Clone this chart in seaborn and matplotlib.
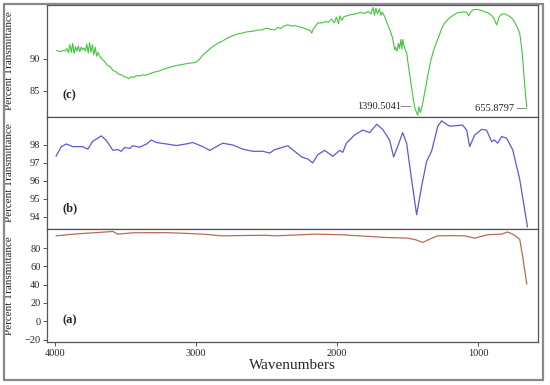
import matplotlib
matplotlib.use("Agg")
import matplotlib.pyplot as plt
import seaborn as sns
import pandas as pd
from matplotlib.patches import Rectangle

# ---------------- data ----------------
wn_c = [3990, 3975, 3960, 3945, 3930, 3915, 3905, 3895, 3885, 3875, 3865, 3855, 3845, 3835,
        3825, 3815, 3805, 3795, 3785, 3775, 3765, 3755, 3745, 3735, 3725, 3715, 3705, 3695,
        3688, 3670, 3650, 3630, 3610, 3590, 3570, 3550, 3530, 3510, 3490, 3478, 3460, 3440,
        3420, 3400, 3380, 3360, 3336, 3300, 3260, 3230, 3195, 3150, 3100, 3053, 3010, 2980,
        2960, 2930, 2900, 2870, 2840, 2818, 2780, 2740, 2700, 2676, 2640, 2600, 2560, 2534,
        2500, 2470, 2443, 2420, 2400, 2380, 2350, 2320, 2300, 2270, 2240, 2210, 2190, 2180,
        2170, 2150, 2137, 2110, 2080, 2060, 2040, 2020, 2005, 1990, 1980, 1967, 1950, 1930,
        1900, 1870, 1840, 1826, 1800, 1780, 1760, 1745, 1735, 1725, 1713, 1700, 1690, 1680,
        1663, 1650, 1635, 1620, 1610, 1600, 1592, 1585, 1575, 1565, 1557, 1548, 1540, 1535,
        1525, 1515, 1507, 1495, 1485, 1472, 1460, 1450, 1440, 1428, 1420, 1410, 1400, 1385,
        1370, 1358, 1340, 1320, 1300, 1287, 1260, 1240, 1216, 1190, 1160, 1145, 1110, 1081,
        1067, 1055, 1040, 1024, 1000, 970, 950, 932, 905, 885, 875, 868, 860, 850, 830, 812,
        790, 762, 740, 720, 705, 690, 680, 670, 662, 655]
t_c = [91.3, 91.2, 91.1, 91.3, 91.2, 91.6, 90.9, 92.2, 91.0, 92.4, 90.8, 91.9, 91.2, 92.0,
       91.1, 91.8, 91.4, 91.7, 91.2, 92.3, 90.9, 92.5, 91.0, 92.2, 90.6, 91.8, 90.4, 91.0,
       90.6, 90.0, 89.6, 89.0, 88.8, 88.2, 88.0, 87.6, 87.5, 87.2, 87.1, 86.9, 87.2, 87.1,
       87.4, 87.3, 87.5, 87.4, 87.6, 87.9, 88.1, 88.4, 88.6, 88.9, 89.1, 89.3, 89.4, 89.8,
       90.4, 91.0, 91.6, 92.1, 92.5, 92.7, 93.2, 93.6, 93.9, 94.0, 94.2, 94.3, 94.5, 94.5,
       94.8, 94.6, 94.5, 94.9, 94.7, 95.1, 95.3, 95.1, 95.2, 95.0, 94.8, 94.6, 94.4, 94.0,
       94.6, 95.2, 95.6, 95.6, 95.8, 95.7, 96.2, 95.6, 96.5, 95.5, 96.7, 96.0, 96.6, 96.7,
       96.9, 97.0, 97.2, 97.2, 97.1, 97.4, 97.0, 98.0, 96.8, 97.9, 97.0, 97.8, 96.8, 97.3,
       96.6, 95.8, 95.0, 94.2, 93.5, 92.5, 91.4, 91.8, 91.2, 92.4, 91.6, 93.0, 91.5, 93.0,
       92.0, 91.3, 91.0, 89.0, 87.5, 85.6, 83.8, 82.4, 81.8, 81.2, 82.5, 81.6, 82.3, 84.0,
       85.8, 87.2, 89.3, 91.0, 92.3, 93.0, 94.6, 95.5, 96.1, 96.6, 97.0, 97.2, 97.3, 97.3,
       96.7, 97.2, 97.6, 97.7, 97.7, 97.5, 97.3, 97.2, 96.8, 96.2, 95.6, 95.3, 95.9, 96.6,
       97.0, 97.0, 96.8, 96.4, 95.7, 94.8, 94.0, 91.5, 89.0, 86.0, 84.0, 82.5]

wn_b = [3993, 3956, 3920, 3875, 3805, 3768, 3733, 3697, 3672, 3636, 3591, 3555, 3530, 3506,
        3470, 3449, 3400, 3352, 3317, 3282, 3211, 3140, 3069, 3024, 2953, 2903, 2856, 2811,
        2740, 2669, 2598, 2527, 2478, 2443, 2350, 2251, 2208, 2173, 2137, 2088, 2031, 1982,
        1960, 1934, 1876, 1817, 1769, 1719, 1677, 1628, 1599, 1571, 1535, 1507, 1472, 1436,
        1400, 1365, 1330, 1287, 1259, 1202, 1110, 1081, 1060, 1024, 975, 940, 904, 883, 862,
        833, 798, 755, 705, 650]
t_b = [97.36, 97.90, 98.05, 97.90, 97.90, 97.76, 98.20, 98.37, 98.50, 98.24, 97.70, 97.73,
       97.64, 97.85, 97.80, 97.95, 97.87, 98.04, 98.27, 98.13, 98.05, 97.96, 98.05, 98.13,
       97.90, 97.69, 97.90, 98.09, 97.99, 97.76, 97.64, 97.64, 97.54, 97.73, 97.95, 97.32,
       97.21, 96.99, 97.45, 97.69, 97.36, 97.69, 97.58, 98.09, 98.55, 98.82, 98.68, 99.15,
       98.86, 98.27, 97.32, 97.90, 98.68, 98.09, 96.08, 94.10, 95.71, 97.08, 97.64, 99.01,
       99.34, 99.04, 99.10, 98.82, 97.90, 98.55, 98.86, 98.82, 98.18, 98.27, 98.09, 98.46,
       98.37, 97.73, 96.08, 93.42]

wn_a = [3993, 3900, 3805, 3700, 3591, 3555, 3449, 3330, 3211, 3053, 2930, 2818, 2650, 2500,
        2443, 2300, 2159, 1967, 1800, 1663, 1500, 1440, 1393, 1340, 1287, 1200, 1096, 1024,
        932, 833, 791, 755, 705, 683, 655]
t_a = [93.4, 94.8, 96.0, 97.0, 98.2, 95.3, 96.7, 96.9, 96.9, 96.0, 95.0, 93.4, 93.8, 94.0,
       93.4, 94.3, 95.3, 94.6, 93.0, 91.7, 90.9, 89.0, 86.2, 90.0, 93.4, 93.6, 93.4, 90.9,
       94.6, 95.3, 97.6, 95.3, 89.8, 69.8, 40.7]

xticks = [4000, 3000, 2000, 1000]
yticks_c = [85, 90]
yticks_b = [94, 95, 96, 97, 98]
yticks_a = [-20, 0, 20, 40, 60, 80]

df_c = pd.DataFrame({"wn": wn_c, "t": t_c})
df_b = pd.DataFrame({"wn": wn_b, "t": t_b})
df_a = pd.DataFrame({"wn": wn_a, "t": t_a})

# ---------------- style ----------------
sns.set_style("ticks")
plt.rcParams["font.family"] = ["Liberation Serif", "DejaVu Serif"]

fig = plt.figure(figsize=(5.5, 3.85), dpi=100)

L, W = 0.085, 0.893
ax_c = fig.add_axes([L, 0.696, W, 0.291])
ax_b = fig.add_axes([L, 0.405, W, 0.291])
ax_a = fig.add_axes([L, 0.112, W, 0.293])

sns.lineplot(data=df_c, x="wn", y="t", ax=ax_c, color="#44c63a", lw=0.8, sort=False)
sns.lineplot(data=df_b, x="wn", y="t", ax=ax_b, color="#5a5ad8", lw=0.9, sort=False)
sns.lineplot(data=df_a, x="wn", y="t", ax=ax_a, color="#bb6a52", lw=0.9, sort=False)

for ax in (ax_c, ax_b, ax_a):
    ax.set_xlim(4059, 576)
    for s in ax.spines.values():
        s.set_visible(True)
        s.set_color("#555555")
        s.set_linewidth(0.9)
    ax.set_ylabel("Percent Transmittance", fontsize=8)
    ax.yaxis.set_label_coords(-0.066, 0.5)
    ax.set_xlabel("")
    ax.tick_params(axis="y", labelsize=7.5, length=3, width=0.7, color="#555555", pad=1.5)

ax_c.set_ylim(80.9, 98.4)
ax_c.set_yticks(yticks_c)
ax_b.set_ylim(93.3, 99.55)
ax_b.set_yticks(yticks_b)
ax_a.set_ylim(-22.5, 100.8)
ax_a.set_yticks(yticks_a)

for ax in (ax_c, ax_b):
    ax.set_xticks([])
ax_a.set_xticks(xticks)
ax_a.set_xticklabels([str(v) for v in xticks])
ax_a.tick_params(axis="x", labelsize=7.5, length=3, width=0.7, color="#555555", pad=2)
ax_a.set_xlabel("Wavenumbers", fontsize=11, labelpad=1)

for ax, lab in ((ax_c, "(c)"), (ax_b, "(b)"), (ax_a, "(a)")):
    ax.text(0.033, 0.19, lab, transform=ax.transAxes, fontsize=9, fontweight="bold",
            ha="left", va="center")

ax_c.text(1470, 82.55, "1390.5041\u2014", fontsize=7.5, ha="right", va="center")
ax_c.text(650, 82.3, "655.8797 \u2014", fontsize=7.5, ha="right", va="center")

fig.patches.append(Rectangle((0.007, 0.013), 0.981, 0.977, transform=fig.transFigure,
                             fill=False, edgecolor="#8a8a8a", lw=1.6))

fig.savefig("out.png", dpi=100)
